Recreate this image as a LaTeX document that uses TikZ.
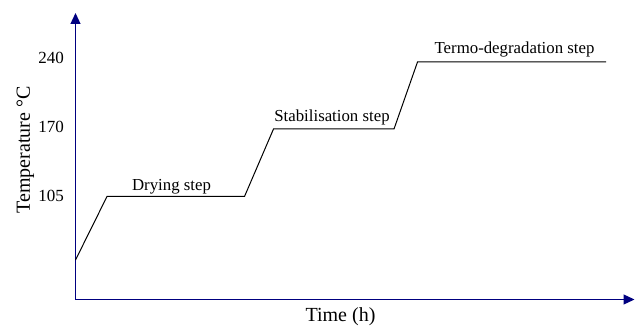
\documentclass[tikz,border=0pt]{standalone}
\usepackage{fontspec}
\setmainfont{Liberation Serif}
\usetikzlibrary{arrows.meta}
\definecolor{axisblue}{RGB}{0,0,128}
\tikzset{
  axisline/.style={draw=axisblue, line width=1.3pt, -{Triangle[length=11pt,width=10pt]}},
  profile/.style={draw=black, line width=1pt, line join=miter},
  steplabel/.style={anchor=base, inner sep=0pt, font=\rmfamily\fontsize{16.8}{20}\selectfont},
  ticklabel/.style={anchor=base, inner sep=0pt, font=\rmfamily\fontsize{17}{20}\selectfont},
  axislabel/.style={anchor=base, inner sep=0pt, font=\rmfamily\fontsize{20}{24}\selectfont}
}
\begin{document}
\begin{tikzpicture}[x=1pt,y=-1pt]
\useasboundingbox (0,0) rectangle (635,326);
% axes
\coordinate (O) at (75.5,299.5);
\coordinate (ytop) at (75.5,13);
\coordinate (xend) at (634.5,299.5);
\draw[axisline] (O) -- (ytop);
\draw[axisline] (O) -- (xend);
% profile
\coordinate (p0) at (75.5,260);
\coordinate (p1) at (107,196.5);
\coordinate (p2) at (244.5,196.5);
\coordinate (p3) at (273.5,129);
\coordinate (p4) at (394,129);
\coordinate (p5) at (417.5,62);
\coordinate (p6) at (606,62);
\draw[profile] (p0) -- (p1) -- (p2) -- (p3) -- (p4) -- (p5) -- (p6);
% step labels
\node[steplabel] (dry) at (171.5,190.5) {Drying step};
\node[steplabel] (stab) at (332,122) {Stabilisation step};
\node[steplabel] (termo) at (514.5,53.5) {Termo-degradation step};
% tick labels
\node[ticklabel] (t240) at (51,63.5) {240};
\node[ticklabel] (t170) at (51,132.5) {170};
\node[ticklabel] (t105) at (51,201.5) {105};
% axis labels
\node[axislabel, rotate=90] (ylab) at (30,150) {Temperature °C};
\node[axislabel] (xlab) at (340.5,321.5) {Time (h)};
\end{tikzpicture}
\end{document}
